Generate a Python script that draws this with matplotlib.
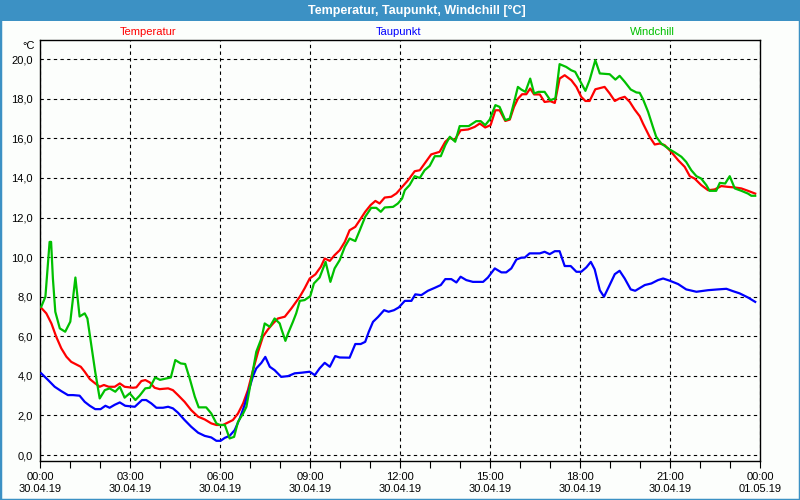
import matplotlib
matplotlib.use("Agg")
from matplotlib import pyplot as plt
from matplotlib.patches import Rectangle
from matplotlib.ticker import MultipleLocator, FuncFormatter

# Stunden seit 30.04.19 00:00 und Werte in °C
temp_h = [0.04, 0.21, 0.38, 0.54, 0.71, 0.88, 1.04, 1.21, 1.36, 1.49, 1.66, 1.84, 1.99, 2.13, 2.29,
          2.49, 2.66, 2.82, 3.10, 3.21, 3.38, 3.51, 3.66, 3.82, 3.99, 4.27, 4.43, 4.60, 4.82, 5.04,
          5.27, 5.49, 5.71, 5.88, 6.10, 6.27, 6.43, 6.60, 6.77, 6.93, 7.10, 7.27, 7.43, 7.60, 7.77,
          7.93, 8.16, 8.38, 8.66, 8.82, 8.99, 9.18, 9.36, 9.49, 9.66, 9.82, 9.99, 10.16, 10.32, 10.51,
          10.66, 10.84, 11.02, 11.18, 11.32, 11.49, 11.71, 11.88, 12.10, 12.27, 12.49, 12.66, 12.82,
          13.04, 13.32, 13.51, 13.66, 13.82, 14.02, 14.27, 14.49, 14.66, 14.84, 15.02, 15.18, 15.32,
          15.51, 15.66, 15.80, 15.93, 16.07, 16.21, 16.34, 16.47, 16.66, 16.82, 17.01, 17.16, 17.32,
          17.49, 17.71, 17.88, 18.04, 18.18, 18.32, 18.51, 18.82, 18.99, 19.16, 19.32, 19.49, 19.66,
          19.82, 19.99, 20.10, 20.32, 20.49, 20.66, 20.82, 21.04, 21.27, 21.49, 21.66, 21.82, 22.04,
          22.27, 22.49, 22.71, 22.93, 23.16, 23.38, 23.60, 23.84]
temp = [7.44, 7.16, 6.65, 5.98, 5.39, 4.97, 4.71, 4.58, 4.46, 4.21, 3.84, 3.62, 3.45, 3.54, 3.45,
        3.45, 3.62, 3.45, 3.40, 3.42, 3.74, 3.79, 3.67, 3.40, 3.33, 3.37, 3.28, 3.03, 2.69, 2.27,
        1.94, 1.80, 1.60, 1.52, 1.52, 1.65, 1.77, 2.10, 2.61, 3.28, 4.29, 5.22, 5.98, 6.35, 6.65,
        6.90, 6.99, 7.41, 8.00, 8.42, 8.92, 9.13, 9.51, 9.93, 9.81, 10.10, 10.35, 10.77, 11.36, 11.53,
        11.87, 12.29, 12.63, 12.84, 12.71, 13.01, 13.05, 13.22, 13.60, 13.89, 14.34, 14.39, 14.73,
        15.19, 15.32, 15.83, 16.03, 15.91, 16.41, 16.45, 16.58, 16.75, 16.55, 16.67, 17.42, 17.42,
        16.88, 16.95, 17.59, 18.00, 18.23, 18.23, 18.52, 18.22, 18.22, 17.84, 17.88, 17.79, 19.02,
        19.19, 18.94, 18.60, 18.10, 17.89, 17.89, 18.48, 18.60, 18.27, 17.89, 18.02, 18.10, 17.84,
        17.46, 17.12, 16.75, 16.08, 15.69, 15.74, 15.66, 15.32, 14.90, 14.56, 14.09, 13.97, 13.64,
        13.38, 13.42, 13.59, 13.55, 13.52, 13.47, 13.35, 13.21]

tau_h = [0.04, 0.27, 0.49, 0.71, 0.93, 1.10, 1.32, 1.49, 1.66, 1.84, 2.02, 2.18, 2.32, 2.49, 2.66,
         2.84, 3.16, 3.40, 3.54, 3.71, 3.88, 4.10, 4.27, 4.43, 4.60, 4.82, 5.04, 5.27, 5.49, 5.71,
         5.88, 6.02, 6.16, 6.32, 6.49, 6.66, 6.82, 6.96, 7.10, 7.21, 7.38, 7.51, 7.66, 7.82, 8.04,
         8.27, 8.49, 8.71, 8.99, 9.16, 9.32, 9.49, 9.66, 9.84, 9.99, 10.32, 10.51, 10.69, 10.84,
         10.96, 11.10, 11.27, 11.47, 11.62, 11.80, 11.96, 12.16, 12.38, 12.51, 12.71, 12.93, 13.16,
         13.36, 13.51, 13.71, 13.88, 14.02, 14.21, 14.43, 14.77, 14.93, 15.16, 15.38, 15.54, 15.71,
         15.88, 16.04, 16.16, 16.32, 16.66, 16.82, 16.99, 17.16, 17.32, 17.49, 17.69, 17.88, 18.04,
         18.21, 18.36, 18.49, 18.66, 18.80, 18.96, 19.16, 19.32, 19.49, 19.69, 19.84, 20.16, 20.38,
         20.60, 20.77, 20.99, 21.27, 21.54, 21.88, 22.27, 22.60, 22.88, 23.10, 23.32, 23.60, 23.84]
taupunkt = [4.13, 3.79, 3.45, 3.23, 3.03, 3.03, 3.00, 2.69, 2.49, 2.32, 2.32, 2.49, 2.39, 2.54, 2.66,
            2.49, 2.44, 2.78, 2.78, 2.61, 2.39, 2.39, 2.44, 2.36, 2.14, 1.77, 1.43, 1.13, 0.97, 0.89,
            0.72, 0.72, 0.87, 0.97, 1.26, 1.85, 2.53, 3.28, 3.99, 4.38, 4.66, 4.96, 4.46, 4.29, 3.95,
            3.99, 4.13, 4.16, 4.21, 4.04, 4.38, 4.66, 4.46, 5.00, 4.93, 4.92, 5.61, 5.61, 5.72,
            6.23, 6.73, 6.98, 7.32, 7.24, 7.32, 7.46, 7.79, 7.79, 8.12, 8.08, 8.30, 8.45,
            8.59, 8.89, 8.89, 8.72, 9.01, 8.84, 8.75, 8.75, 8.97, 9.43, 9.23, 9.23, 9.43,
            9.88, 9.97, 9.98, 10.19, 10.19, 10.27, 10.15, 10.30, 10.30, 9.55, 9.55, 9.26, 9.26,
            9.48, 9.76, 9.38, 8.33, 8.00, 8.50, 9.14, 9.31, 8.92, 8.37, 8.30, 8.59, 8.67,
            8.84, 8.92, 8.81, 8.64, 8.37, 8.25, 8.33, 8.37, 8.40, 8.28, 8.17, 7.96, 7.74]

wind_h = [0.04, 0.18, 0.32, 0.37, 0.43, 0.51, 0.66, 0.84, 1.01, 1.18, 1.32, 1.49, 1.58, 1.71, 1.84,
          1.99, 2.16, 2.32, 2.51, 2.66, 2.82, 2.99, 3.18, 3.32, 3.51, 3.66, 3.84, 4.00, 4.36, 4.51,
          4.69, 4.84, 4.99, 5.16, 5.29, 5.54, 5.71, 5.88, 5.99, 6.16, 6.32, 6.47, 6.60, 6.77, 6.88,
          6.99, 7.10, 7.21, 7.38, 7.49, 7.66, 7.82, 7.99, 8.04, 8.18, 8.27, 8.43, 8.54, 8.66, 8.82,
          9.01, 9.13, 9.32, 9.52, 9.68, 9.82, 9.99, 10.16, 10.32, 10.51, 10.66, 10.84, 11.04, 11.21,
          11.36, 11.49, 11.77, 11.93, 12.07, 12.16, 12.32, 12.49, 12.66, 12.82, 12.99, 13.16, 13.36,
          13.51, 13.66, 13.84, 13.99, 14.29, 14.54, 14.69, 14.84, 14.99, 15.18, 15.32, 15.51, 15.66,
          15.82, 15.93, 16.04, 16.18, 16.34, 16.47, 16.62, 16.82, 17.01, 17.18, 17.32, 17.54, 17.71,
          17.84, 17.99, 18.18, 18.32, 18.51, 18.66, 18.99, 19.18, 19.32, 19.49, 19.69, 19.88, 19.99,
          20.10, 20.27, 20.43, 20.54, 20.71, 20.99, 21.16, 21.38, 21.54, 21.71, 21.88, 22.04, 22.21,
          22.32, 22.54, 22.66, 22.84, 22.99, 23.16, 23.38, 23.60, 23.71, 23.84]
windchill = [7.49, 8.00, 10.77, 10.77, 8.92, 7.24, 6.40, 6.23, 6.74, 8.97, 7.00, 7.16, 6.90, 5.56, 4.21,
             2.86, 3.28, 3.37, 3.20, 3.45, 2.90, 3.12, 2.78, 3.00, 3.37, 3.40, 3.92, 3.80, 3.92, 4.80,
             4.63, 4.60, 3.87, 2.95, 2.41, 2.41, 2.10, 1.60, 1.52, 1.52, 0.84, 0.92, 1.68, 2.10, 2.44,
             3.37, 4.29, 5.22, 5.89, 6.65, 6.48, 6.90, 6.65, 6.40, 5.77, 6.15, 6.73, 7.16, 7.79, 7.83,
             8.03, 8.67, 8.97, 9.76, 8.75, 9.43, 9.85, 10.52, 10.94, 10.81, 11.36, 12.04, 12.49, 12.49,
             12.29, 12.51, 12.54, 12.71, 12.96, 13.38, 13.64, 14.09, 14.00, 14.39, 14.61, 15.10, 15.10,
             15.66, 16.08, 15.83, 16.62, 16.62, 16.87, 16.87, 16.67, 16.95, 17.68, 17.59, 16.92, 17.00,
             17.93, 18.60, 18.47, 18.35, 19.02, 18.27, 18.35, 18.35, 17.93, 18.02, 19.75, 19.61, 19.44,
             19.36, 18.94, 18.40, 18.94, 19.95, 19.28, 19.24, 18.97, 19.16, 18.86, 18.47, 18.32, 18.30,
             17.98, 17.34, 16.58, 16.08, 15.74, 15.44, 15.29, 15.07, 14.81, 14.39, 14.09, 13.97, 13.64,
             13.35, 13.35, 13.75, 13.72, 14.09, 13.47, 13.35, 13.21, 13.10, 13.10]

x_ticks = [0, 3, 6, 9, 12, 15, 18, 21, 24]
x_labels = ["00:00\n30.04.19", "03:00\n30.04.19", "06:00\n30.04.19", "09:00\n30.04.19",
            "12:00\n30.04.19", "15:00\n30.04.19", "18:00\n30.04.19", "21:00\n30.04.19",
            "00:00\n01.05.19"]

plt.rcParams['font.family'] = ['Liberation Sans', 'DejaVu Sans']

fig = plt.figure(figsize=(8, 5), dpi=100, facecolor='#fcfefc')
ax = fig.add_axes([40/800, 1 - 461/500, 720/800, 421/500])
ax.set_facecolor('#fcfefc')

ax.plot(temp_h, temp, color='#ff0000', lw=1.6, zorder=3)
ax.plot(tau_h, taupunkt, color='#0000ff', lw=1.6, zorder=3)
ax.plot(wind_h, windchill, color='#00c000', lw=1.6, zorder=4)

ax.set_xlim(0, 24)
ax.set_ylim(-0.3, 20.97)
ax.set_xticks(x_ticks)
ax.set_xticklabels(x_labels)
ax.xaxis.set_minor_locator(MultipleLocator(1))
ax.yaxis.set_major_locator(MultipleLocator(2))
ax.yaxis.set_major_formatter(FuncFormatter(lambda v, p: f"{v:.1f}".replace('.', ',')))
ax.tick_params(axis='x', which='both', direction='out', length=5, width=0.8, labelsize=8, pad=3)
ax.tick_params(axis='y', length=0, labelsize=8, pad=5)
ax.grid(True, color='black', linestyle=(0, (3, 3)), linewidth=0.8)
for s in ax.spines.values():
    s.set_linewidth(1.0)

# Titelleiste und Rahmen
fig.add_artist(Rectangle((0, 1 - 21/500), 1, 21/500, transform=fig.transFigure,
                         facecolor='#3c91c4', edgecolor='none'))
fig.add_artist(Rectangle((0, 0), 1, 1, transform=fig.transFigure, fill=False,
                         edgecolor='#3c91c4', lw=2.5))
fig.text(417/800, 1 - 11/500, "Temperatur, Taupunkt, Windchill [°C]", color='white',
         fontsize=9, fontweight='bold', ha='center', va='center')

fig.text(148/800, 1 - 32/500, "Temperatur", color='#ff0000', fontsize=8, ha='center', va='center')
fig.text(399/800, 1 - 32/500, "Taupunkt", color='#0000ff', fontsize=8, ha='center', va='center')
fig.text(652/800, 1 - 32/500, "Windchill", color='#00c000', fontsize=8, ha='center', va='center')
fig.text(35/800, 1 - 46/500, "°C", color='black', fontsize=8, ha='right', va='center')

fig.savefig("out.png", dpi=100, facecolor=fig.get_facecolor())
